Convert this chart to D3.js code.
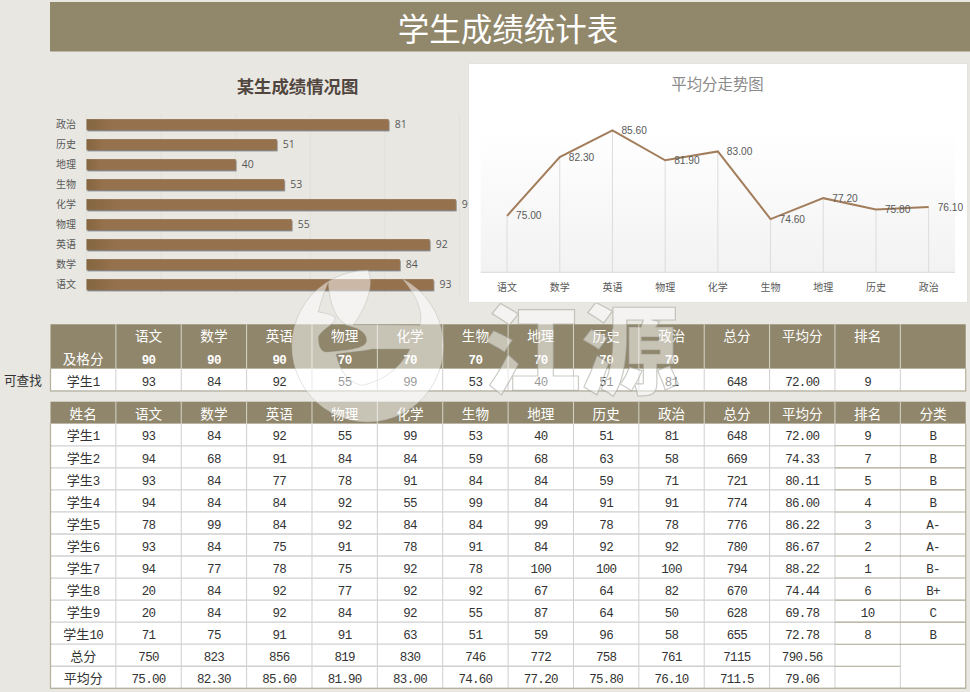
<!DOCTYPE html>
<html>
<head>
<meta charset="utf-8">
<style>
  html, body { margin: 0; padding: 0; background: #e8e7e2; overflow: hidden; }
  svg { display: block; }
  text { font-family: "Noto Sans CJK SC", "Noto Sans", sans-serif; }
  .num { font-family: "Liberation Mono", monospace; font-size: 12.5px; letter-spacing: -0.7px; }
  .numHead { font-weight: 700; }
</style>
</head>
<body>
<div class="svg"></div>
<script src="https://d3js.org/d3.v7.min.js"></script>
<script>
var title = '学生成绩统计表';
var barTitle = '某生成绩情况图';
var lineTitle = '平均分走势图';
var lookupLabel = '可查找';

var subjects = ['语文', '数学', '英语', '物理', '化学', '生物', '地理', '历史', '政治'];
var barValues = [93, 84, 92, 55, 99, 53, 40, 51, 81];
var avgValues = [75.00, 82.30, 85.60, 81.90, 83.00, 74.60, 77.20, 75.80, 76.10];
var passMarks = ['90', '90', '90', '70', '70', '70', '70', '70', '70'];
var barTicks = [0, 20, 40, 60, 80, 100];

var lookupRow = ['学生1', '93', '84', '92', '55', '99', '53', '40', '51', '81', '648', '72.00', '9', ''];
var headTop = ['', '语文', '数学', '英语', '物理', '化学', '生物', '地理', '历史', '政治', '总分', '平均分', '排名', ''];
var headMid = ['及格分'].concat(passMarks, ['', '', '', '']);
var headMain = ['姓名', '语文', '数学', '英语', '物理', '化学', '生物', '地理', '历史', '政治', '总分', '平均分', '排名', '分类'];

var rows = [
  ['学生1', '93', '84', '92', '55', '99', '53', '40', '51', '81', '648', '72.00', '9', 'B'],
  ['学生2', '94', '68', '91', '84', '84', '59', '68', '63', '58', '669', '74.33', '7', 'B'],
  ['学生3', '93', '84', '77', '78', '91', '84', '84', '59', '71', '721', '80.11', '5', 'B'],
  ['学生4', '94', '84', '84', '92', '55', '99', '84', '91', '91', '774', '86.00', '4', 'B'],
  ['学生5', '78', '99', '84', '92', '84', '84', '99', '78', '78', '776', '86.22', '3', 'A-'],
  ['学生6', '93', '84', '75', '91', '78', '91', '84', '92', '92', '780', '86.67', '2', 'A-'],
  ['学生7', '94', '77', '78', '75', '92', '78', '100', '100', '100', '794', '88.22', '1', 'B-'],
  ['学生8', '20', '84', '92', '77', '92', '92', '67', '64', '82', '670', '74.44', '6', 'B+'],
  ['学生9', '20', '84', '92', '84', '92', '55', '87', '64', '50', '628', '69.78', '10', 'C'],
  ['学生10', '71', '75', '91', '91', '63', '51', '59', '96', '58', '655', '72.78', '8', 'B'],
  ['总分', '750', '823', '856', '819', '830', '746', '772', '758', '761', '7115', '790.56', '', ''],
  ['平均分', '75.00', '82.30', '85.60', '81.90', '83.00', '74.60', '77.20', '75.80', '76.10', '711.5', '79.06', '', '']
];

(function() {
  var width = 970;
  var height = 692;

  var svg = d3.select('.svg')
      .append('svg')
      .attr('width', width)
      .attr('height', height);

  var defs = svg.append('defs');

  var barGrad = defs.append('linearGradient').attr('id', 'barGrad');
  barGrad.append('stop').attr('offset', '0%').attr('stop-color', '#84663f');
  barGrad.append('stop').attr('offset', '9%').attr('stop-color', '#96714d');
  barGrad.append('stop').attr('offset', '100%').attr('stop-color', '#96714d');

  var plotGrad = defs.append('linearGradient').attr('id', 'plotGrad')
      .attr('x1', 0).attr('x2', 0).attr('y1', 0).attr('y2', 1);
  plotGrad.append('stop').attr('offset', '0%').attr('stop-color', '#ffffff');
  plotGrad.append('stop').attr('offset', '100%').attr('stop-color', '#f2f2f2');

  defs.append('filter').attr('id', 'barShadow')
      .attr('x', '-2%').attr('y', '-30%').attr('width', '104%').attr('height', '170%')
    .append('feDropShadow')
      .attr('dx', 0.8).attr('dy', 1.4).attr('stdDeviation', 0.7)
      .attr('flood-color', '#444').attr('flood-opacity', 0.65);

  // banner
  svg.append('rect')
      .attr('x', 50).attr('y', 2).attr('width', 920).attr('height', 49.5)
      .attr('fill', '#91886c');
  svg.append('text')
      .attr('x', 508).attr('y', 40.5)
      .attr('text-anchor', 'middle')
      .attr('font-size', 31.5)
      .attr('fill', '#fff')
      .text(title);

  drawBars();
  drawTables();
  drawWatermark();
  drawLine();

  function drawBars() {
    var x = d3.scaleLinear().domain([0, 100]).range([86.5, 459.5]);
    var y = d3.scaleBand().domain(subjects.slice().reverse()).range([114.5, 294.5]).paddingInner(0.46).paddingOuter(0.23);

    svg.append('text')
        .attr('x', 297.5).attr('y', 93)
        .attr('text-anchor', 'middle')
        .attr('font-size', 17.4)
        .attr('font-weight', 700)
        .attr('fill', '#51463f')
        .text(barTitle);

    svg.append('g').selectAll('line')
        .data(barTicks)
      .enter().append('line')
        .attr('x1', x).attr('x2', x)
        .attr('y1', 114).attr('y2', 295)
        .attr('stroke', '#e1e0da');

    svg.append('g').selectAll('rect')
        .data(subjects)
      .enter().append('rect')
        .attr('x', x(0))
        .attr('y', function(d) { return y(d); })
        .attr('height', y.bandwidth())
        .attr('width', function(d, i) { return x(barValues[i]) - x(0); })
        .attr('fill', 'url(#barGrad)')
        .attr('filter', 'url(#barShadow)');

    svg.append('g').selectAll('text')
        .data(subjects)
      .enter().append('text')
        .attr('x', 76)
        .attr('y', function(d) { return y(d) + y.bandwidth() / 2; })
        .attr('dy', '0.33em')
        .attr('text-anchor', 'end')
        .attr('font-size', 10)
        .attr('fill', '#595959')
        .text(function(d) { return d; });

    svg.append('g').selectAll('text')
        .data(subjects)
      .enter().append('text')
        .attr('x', function(d, i) { return x(barValues[i]) + 6; })
        .attr('y', function(d) { return y(d) + y.bandwidth() / 2; })
        .attr('dy', '0.35em')
        .attr('font-size', 10.5)
        .style('font-family', '"Open Sans", sans-serif')
        .attr('fill', '#595959')
        .text(function(d, i) { return barValues[i]; });
  }

  function drawLine() {
    var x = d3.scaleBand().domain(subjects).range([480.7, 955]);
    var y = d3.scaleLinear().domain([68, 90]).range([272.3, 95]);
    var center = function(d) { return x(d) + x.bandwidth() / 2; };

    svg.append('rect')
        .attr('x', 468.5).attr('y', 63.5).attr('width', 499).attr('height', 239)
        .attr('fill', '#fff')
        .attr('stroke', '#e4e3de');

    svg.append('text')
        .attr('x', 717.5).attr('y', 90)
        .attr('text-anchor', 'middle')
        .attr('font-size', 15.4)
        .attr('fill', '#8a8a8a')
        .text(lineTitle);

    svg.append('rect')
        .attr('x', 480.7).attr('y', 132).attr('width', 474.3).attr('height', 140.3)
        .attr('fill', 'url(#plotGrad)');

    svg.append('g').selectAll('line')
        .data(subjects)
      .enter().append('line')
        .attr('x1', center).attr('x2', center)
        .attr('y1', function(d, i) { return y(avgValues[i]); })
        .attr('y2', y(68))
        .attr('stroke', '#dcdcdc');

    svg.append('line')
        .attr('x1', 480.7).attr('x2', 955)
        .attr('y1', y(68)).attr('y2', y(68))
        .attr('stroke', '#d9d9d9');

    var line = d3.line()
        .x(function(d, i) { return center(subjects[i]); })
        .y(function(d) { return y(d); });

    svg.append('path')
        .datum(avgValues)
        .attr('d', line)
        .attr('fill', 'none')
        .attr('stroke', '#a27d5b')
        .attr('stroke-width', 2);

    svg.append('g').selectAll('text')
        .data(subjects)
      .enter().append('text')
        .attr('x', function(d) { return center(d) + 9; })
        .attr('y', function(d, i) { return y(avgValues[i]); })
        .attr('dy', '0.35em')
        .attr('font-size', 10.2)
        .style('font-family', '"Liberation Sans", sans-serif')
        .attr('fill', '#595959')
        .text(function(d, i) { return avgValues[i].toFixed(2); });

    svg.append('g').selectAll('text')
        .data(subjects)
      .enter().append('text')
        .attr('x', center)
        .attr('y', 291)
        .attr('text-anchor', 'middle')
        .attr('font-size', 10)
        .attr('fill', '#595959')
        .text(function(d) { return d; });
  }

  function drawTables() {
    var x = d3.scaleBand().domain(d3.range(14)).range([50.5, 965.7]);

    svg.append('text')
        .attr('x', 4).attr('y', 384.5)
        .attr('font-size', 12.6)
        .attr('fill', '#333')
        .text(lookupLabel);

    // lookup block
    var topY = d3.scaleBand().domain(d3.range(3)).range([324.3, 391]);
    drawHeader(x, topY(0), topY.bandwidth() * 2);
    drawRowText(x, topY, 0, headTop, '#fff', 13.6);
    drawRowText(x, topY, 1, headMid, '#fff', 13.6);
    drawGrid(x, topY, [2], true);
    drawRowText(x, topY, 2, lookupRow, '#333', 13);

    // main block
    var mainY = d3.scaleBand().domain(d3.range(13)).range([401.7, 688.3]);
    drawHeader(x, mainY(0), mainY.bandwidth());
    drawRowText(x, mainY, 0, headMain, '#fff', 13.6);
    drawGrid(x, mainY, d3.range(1, 13), false);
    rows.forEach(function(row, i) {
      drawRowText(x, mainY, i + 1, row, '#333', 13);
    });
  }

  function drawHeader(x, top, h) {
    svg.append('rect')
        .attr('x', x.range()[0]).attr('y', top)
        .attr('width', x.range()[1] - x.range()[0]).attr('height', h)
        .attr('fill', '#8f866b');
    svg.append('g').selectAll('line')
        .data(d3.range(1, 14))
      .enter().append('line')
        .attr('x1', function(d) { return x(d); })
        .attr('x2', function(d) { return x(d); })
        .attr('y1', top).attr('y2', top + h)
        .attr('stroke', '#d8d5c8');
  }

  function drawGrid(x, y, idx, single) {
    var g = svg.append('g');
    var top = y(idx[0]);
    var bottom = y(idx[idx.length - 1]) + y.bandwidth();
    var left = x.range()[0];
    var right = x.range()[1];

    g.append('rect')
        .attr('x', left).attr('y', top)
        .attr('width', right - left).attr('height', bottom - top)
        .attr('fill', '#fff');

    g.selectAll('.v')
        .data(d3.range(1, 14))
      .enter().append('line')
        .attr('x1', function(d) { return x(d); })
        .attr('x2', function(d) { return x(d); })
        .attr('y1', top).attr('y2', bottom)
        .attr('stroke', '#cfcfcf');

    g.selectAll('.h')
        .data(idx)
      .enter().append('line')
        .attr('x1', left).attr('x2', x(12))
        .attr('y1', function(d) { return y(d) + y.bandwidth(); })
        .attr('y2', function(d) { return y(d) + y.bandwidth(); })
        .attr('stroke', '#d0d0d0')
        .attr('stroke-width', 1.3);

    // rank and category columns have darker rules, the total row stops short
    g.selectAll('.h2')
        .data(idx)
      .enter().append('line')
        .attr('x1', x(12))
        .attr('x2', function(d) { return d === 11 ? x(13) : right; })
        .attr('y1', function(d) { return y(d) + y.bandwidth(); })
        .attr('y2', function(d) { return y(d) + y.bandwidth(); })
        .attr('stroke', single ? '#c9c6b6' : '#aaa591')
        .attr('stroke-width', 1.1);

    g.append('path')
        .attr('d', 'M' + left + ',' + (top - 0.5) + 'V' + bottom + 'H' + right + 'V' + (top - 0.5))
        .attr('fill', 'none')
        .attr('stroke', '#b5b19c')
        .attr('stroke-width', 1.2);
  }

  function drawRowText(x, y, r, cells, color, size) {
    var g = svg.append('g');
    cells.forEach(function(cell, c) {
      if (!cell) return;
      var t = g.append('text')
          .attr('x', x(c) + x.bandwidth() / 2)
          .attr('y', y(r) + y.bandwidth() / 2)
          .attr('dy', '0.44em')
          .attr('text-anchor', 'middle')
          .attr('font-size', size)
          .attr('fill', color);
      // split cjk from the latin digits, they use different faces
      var parts = cell.match(/[\u4e00-\u9fff]+|[^\u4e00-\u9fff]+/g);
      parts.forEach(function(p) {
        var s = t.append('tspan').text(p);
        if (!/[\u4e00-\u9fff]/.test(p)) s.attr('class', color === '#fff' ? 'num numHead' : 'num');
      });
    });
  }

  function drawWatermark() {
    var g = svg.append('g');
    // disc with a gap at the top right
    var disc = 'M368.3,270.3 A75.8,75.8 0 1 0 402.3,278.7 ' +
        'C416.7,295.3 423.3,312 420,325.3 L353.3,324.7 C363.3,312 372.3,292 370,277 Z';
    // swirl with its hook
    var swirl = 'M328.3,282 C323,295 320,305 318.3,312 C325,313 330,314 335,317 ' +
        'C336.7,323.7 321.7,328.7 318.3,337 C318.3,350.3 323.3,352.7 328.3,352 ' +
        'C348.3,350.3 366.7,348.7 366.7,340.3 C366.7,330.3 353.3,327 346.7,325.3 ' +
        'C343,322 339,320 337,316 C331,305 329,295 328.3,282 Z';
    // pocket under the swirl
    var pocket = 'M336,354 C350,352 366,350.5 372,349 L410,349 ' +
        'C398.3,372 378.3,382 361.7,385.3 C348.3,382 340,372 336,354 Z';
    // the part of the pocket over the white row still fades the digits
    var floor = 'M343,369 L393,369 C385,378 373,383 361.7,385.3 C352,383 347,377 343,369 Z';

    g.append('path')
        .attr('d', disc + ' ' + swirl + ' ' + pocket)
        .attr('fill-rule', 'evenodd')
        .attr('fill', '#fff')
        .attr('fill-opacity', 0.5)
        .attr('stroke', '#a9a8a0')
        .attr('stroke-opacity', 0.35);

    g.append('path')
        .attr('d', floor)
        .attr('fill', '#fff')
        .attr('fill-opacity', 0.5);

    g.append('text')
        .attr('x', 581).attr('y', 386)
        .attr('text-anchor', 'middle')
        .attr('font-size', 98)
        .attr('font-weight', 900)
        .attr('fill', '#fff')
        .attr('fill-opacity', 0.5)
        .attr('stroke', '#9a9990')
        .attr('stroke-opacity', 0.5)
        .attr('stroke-width', 1.2)
        .text('江源');
  }
})();
</script>
</body>
</html>
